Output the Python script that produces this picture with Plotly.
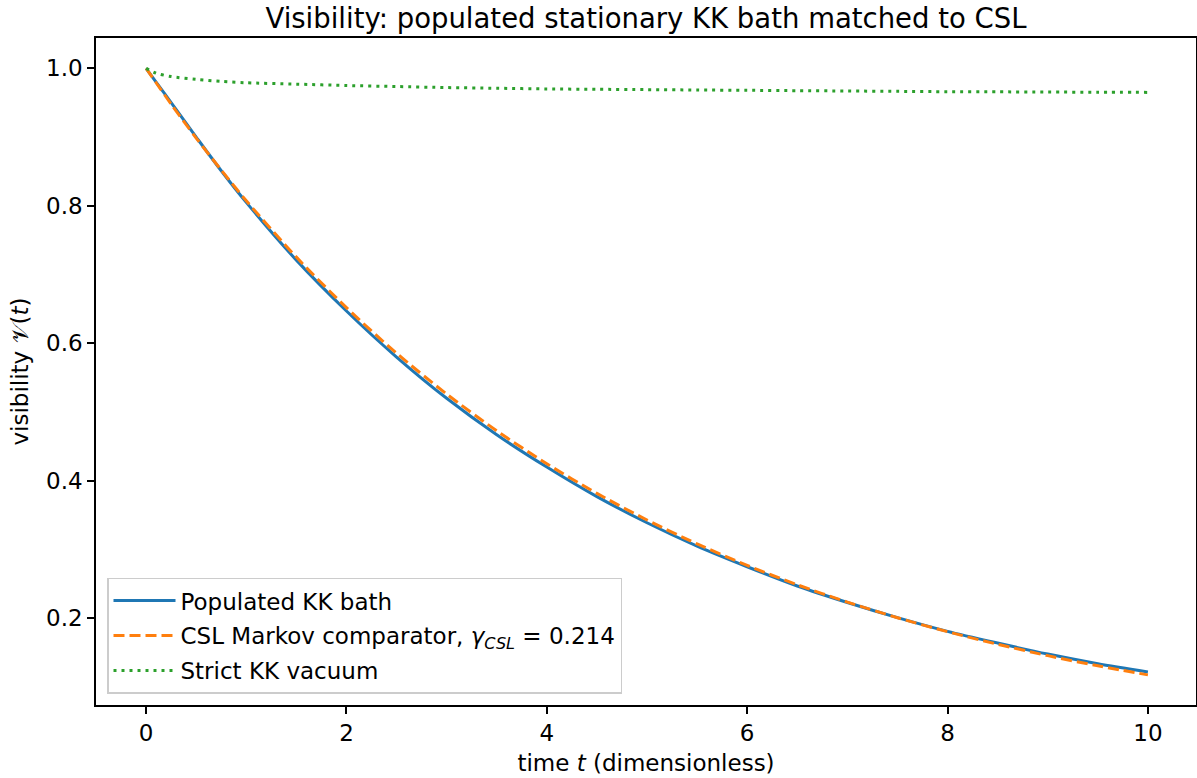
import plotly.graph_objects as go

# time grid (dimensionless)
t_vals = [0.0, 0.1, 0.25, 0.5, 0.75, 1.0, 1.5, 2.0, 2.5, 3.0, 3.5, 4.0, 4.5, 5.0,
          5.5, 6.0, 6.5, 7.0, 7.5, 8.0, 8.5, 9.0, 9.5, 10.0]

# Populated KK bath (blue, solid)
populated = [1.000, 0.980, 0.950, 0.900, 0.851, 0.805, 0.721, 0.647, 0.580, 0.520,
             0.467, 0.420, 0.377, 0.339, 0.305, 0.275, 0.247, 0.223, 0.201, 0.181,
             0.164, 0.148, 0.134, 0.122]

# CSL Markov comparator (orange, dashed), gamma_CSL = 0.214
csl = [1.000, 0.979, 0.948, 0.8985, 0.852, 0.8073, 0.7254, 0.6518, 0.5856, 0.5262,
       0.4728, 0.4248, 0.3817, 0.3430, 0.3082, 0.2769, 0.2488, 0.2236, 0.2009, 0.1805,
       0.1622, 0.1457, 0.1309, 0.1177]

# Strict KK vacuum (green, dotted)
vacuum = [1.000, 0.993, 0.988, 0.984, 0.981, 0.979, 0.977, 0.975, 0.9735, 0.972,
          0.971, 0.970, 0.9695, 0.969, 0.9685, 0.968, 0.9675, 0.967, 0.9665, 0.966,
          0.9658, 0.9655, 0.9652, 0.965]

x_ticks = [0, 2, 4, 6, 8, 10]
y_ticks = [0.2, 0.4, 0.6, 0.8, 1.0]
y_tick_text = ["0.2", "0.4", "0.6", "0.8", "1.0"]

FONT = "DejaVu Sans"
FS = 23

fig = go.Figure()
fig.add_trace(go.Scatter(x=t_vals, y=populated, mode="lines", name="Populated KK bath",
                         line=dict(color="#1f77b4", width=3, shape="spline", smoothing=0.8),
                         legendgroup="a"))
fig.add_trace(go.Scatter(x=t_vals, y=csl, mode="lines",
                         name="CSL Markov comparator, <i>γ</i><sub><i>CSL</i></sub> = 0.214",
                         line=dict(color="#ff7f0e", width=3, dash="11px,5px", shape="spline",
                                   smoothing=0.8),
                         legendgroup="b"))
fig.add_trace(go.Scatter(x=t_vals, y=vacuum, mode="lines", name="Strict KK vacuum",
                         line=dict(color="#2ca02c", width=3, dash="3px,5px", shape="spline",
                                   smoothing=0.8),
                         legendgroup="c"))

axis_common = dict(showline=True, linecolor="black", linewidth=1.5, mirror=True,
                   ticks="outside", ticklen=7, tickwidth=1.5, tickcolor="black",
                   showgrid=False, zeroline=False, automargin=False,
                   tickfont=dict(family=FONT, size=FS, color="black"))

fig.update_xaxes(range=[-0.5, 10.48], tickvals=x_ticks,
                 title=dict(text="time <i>t</i> (dimensionless)",
                            font=dict(family=FONT, size=FS, color="black"), standoff=10),
                 **axis_common)
fig.update_yaxes(range=[0.0739, 1.0441], tickvals=y_ticks, ticktext=y_tick_text,
                 title=dict(text="visibility 𝒱(<i>t</i>)",
                            font=dict(family=FONT, size=FS, color="black"), standoff=11),
                 **axis_common)

fig.update_layout(
    width=1197, height=778,
    margin=dict(l=96, r=1, t=38, b=73, autoexpand=False),
    paper_bgcolor="white", plot_bgcolor="white",
    title=dict(text="Visibility: populated stationary KK bath matched to CSL",
               x=0.5, xref="paper", xanchor="center", y=0.976, yanchor="middle",
               font=dict(family=FONT, size=27.5, color="black")),
    legend=dict(x=0.01, y=0.017, xanchor="left", yanchor="bottom",
                bgcolor="rgba(255,255,255,0.8)", bordercolor="#cccccc", borderwidth=1.5,
                font=dict(family=FONT, size=FS, color="black"),
                itemwidth=62,
                traceorder="grouped", tracegroupgap=2),
    showlegend=True,
)

fig.write_html("out.html", config={"displayModeBar": False},
               post_script="document.body.style.margin='0';document.body.style.overflow='hidden';")
